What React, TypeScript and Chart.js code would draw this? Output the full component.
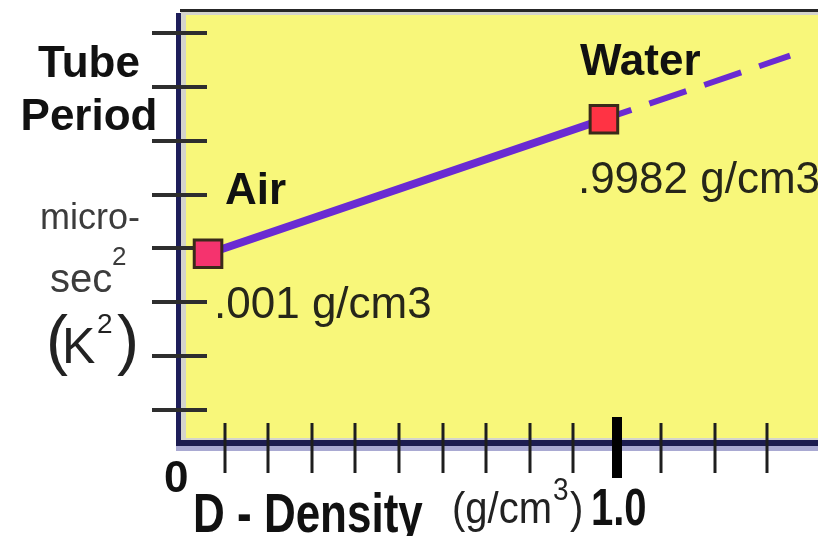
import { useEffect, useRef } from 'react';
import { Chart, registerables } from 'chart.js';

Chart.register(...registerables);

// ---- data ----
const pointNames = ['Air', 'Water'];
const pointDensityLabels = ['.001 g/cm3', '.9982 g/cm3'];
const densityX = [0.062, 0.97];
const periodY = [2.9, 5.4];
const extensionX = [0.97, 1.397];
const extensionY = [5.4, 6.58];
const xTickValues = [0.1, 0.2, 0.3, 0.4, 0.5, 0.6, 0.7, 0.8, 0.9, 1.0, 1.1, 1.225, 1.345];
const majorXTick = 1.0;
const yTickValues = [0, 1, 2, 3, 4, 5, 6, 7];
const xLabelZero = '0';
const xLabelMajor = '1.0';
const yTitle = ['Tube', 'Period'];

const FONT = '"Liberation Sans", Arial, sans-serif';
const PURPLE = '#6A2BD2';

function stretchedText(ctx: CanvasRenderingContext2D, text: string, x: number, y: number, font: string, sy: number, color: string) {
  ctx.save();
  ctx.font = font;
  ctx.fillStyle = color;
  ctx.textAlign = 'left';
  ctx.textBaseline = 'alphabetic';
  ctx.translate(x, y);
  ctx.scale(1, sy);
  ctx.fillText(text, 0, 0);
  ctx.restore();
}

const framePlugin = {
  id: 'frame',
  beforeDatasetsDraw(chart: any) {
    const { ctx, chartArea } = chart;
    const { left, top, right, bottom } = chartArea;
    ctx.save();
    // inner bevel
    ctx.fillStyle = '#D4D4CC';
    ctx.fillRect(left, top, right - left, bottom - top);
    ctx.fillStyle = '#F8F77A';
    ctx.fillRect(left + 5, top + 4, right - left - 5, bottom - top - 6);
    // top border
    ctx.fillStyle = '#262626';
    ctx.fillRect(left - 1, top - 2, right - left + 1, 3);
    // left border
    ctx.fillStyle = '#1E1E5A';
    ctx.fillRect(left - 5, top + 2, 5, bottom - top + 6);
    // bottom border
    ctx.fillStyle = '#1C1C50';
    ctx.fillRect(left - 5, bottom, right - left + 5, 6);
    ctx.fillStyle = '#A9A9D2';
    ctx.fillRect(left - 5, bottom + 6, right - left + 5, 5);

    const xs = chart.scales.x;
    const ys = chart.scales.y;
    ctx.lineCap = 'butt';
    // y ticks
    ctx.strokeStyle = '#2E2E2E';
    ctx.lineWidth = 4;
    for (const v of yTickValues) {
      const py = Math.round(ys.getPixelForValue(v));
      ctx.beginPath();
      ctx.moveTo(left - 29, py);
      ctx.lineTo(left + 26, py);
      ctx.stroke();
    }
    // x ticks
    for (const v of xTickValues) {
      const px = Math.round(xs.getPixelForValue(v));
      const major = Math.abs(v - majorXTick) < 1e-9;
      ctx.strokeStyle = major ? '#000000' : '#1E1E1E';
      ctx.lineWidth = major ? 10 : 3;
      ctx.beginPath();
      ctx.moveTo(px, major ? bottom - 23 : bottom - 17);
      ctx.lineTo(px, major ? bottom + 38 : bottom + 33);
      ctx.stroke();
    }
    ctx.restore();
  },
  afterDatasetsDraw(chart: any) {
    const { ctx } = chart;
    const meta = chart.getDatasetMeta(0);
    const nameOffsets = [
      { dx: 17, dy: -50 },
      { dx: -24, dy: -44 },
    ];
    const valueOffsets = [
      { dx: 6, dy: 64 },
      { dx: -26, dy: 74 },
    ];
    ctx.save();
    meta.data.forEach((pt: any, i: number) => {
      ctx.textAlign = 'left';
      ctx.textBaseline = 'alphabetic';
      ctx.fillStyle = '#111111';
      ctx.font = `bold 44px ${FONT}`;
      ctx.fillText(pointNames[i], pt.x + nameOffsets[i].dx, pt.y + nameOffsets[i].dy);
      ctx.fillStyle = '#26261A';
      ctx.font = `44px ${FONT}`;
      ctx.fillText(pointDensityLabels[i], pt.x + valueOffsets[i].dx, pt.y + valueOffsets[i].dy);
    });
    ctx.restore();
  },
  afterDraw(chart: any) {
    const { ctx } = chart;
    ctx.save();
    ctx.textBaseline = 'alphabetic';
    // y title
    ctx.fillStyle = '#111111';
    ctx.font = `bold 44px ${FONT}`;
    ctx.textAlign = 'center';
    ctx.fillText(yTitle[0], 89, 77);
    ctx.fillText(yTitle[1], 89, 130);
    ctx.textAlign = 'left';
    ctx.fillStyle = '#3C3C3C';
    ctx.font = `36px ${FONT}`;
    ctx.fillText('micro-', 40, 229);
    ctx.font = `26px ${FONT}`;
    ctx.fillText('2', 112, 265);
    ctx.font = `40px ${FONT}`;
    ctx.fillText('sec', 50, 292);
    ctx.fillStyle = '#222222';
    ctx.font = `66px ${FONT}`;
    ctx.fillText('(', 46, 362);
    ctx.fillText(')', 117, 362);
    ctx.font = `50px ${FONT}`;
    ctx.fillText('K', 62, 363);
    ctx.font = `28px ${FONT}`;
    ctx.fillText('2', 97, 333);

    // x title
    stretchedText(ctx, xLabelZero, 164, 492, `bold 44px ${FONT}`, 1.0, '#111111');
    stretchedText(ctx, 'D - Density', 193, 532, `bold 44px ${FONT}`, 1.27, '#111111');
    stretchedText(ctx, '(g/cm', 452, 523, `40px ${FONT}`, 1.12, '#222222');
    stretchedText(ctx, '3', 553, 500, `28px ${FONT}`, 1.1, '#222222');
    stretchedText(ctx, ')', 570, 523, `40px ${FONT}`, 1.12, '#222222');
    stretchedText(ctx, xLabelMajor, 591, 525, `bold 40px ${FONT}`, 1.3, '#111111');
    ctx.restore();
  },
};

export default function App() {
  const ref = useRef<HTMLCanvasElement | null>(null);

  useEffect(() => {
    if (!ref.current) return;
    const chart = new Chart(ref.current, {
      type: 'scatter',
      data: {
        datasets: [
          {
            label: 'calibration',
            data: densityX.map((x, i) => ({ x, y: periodY[i] })),
            showLine: true,
            borderColor: PURPLE,
            borderWidth: 8,
            pointStyle: 'rect',
            pointRadius: 19.5,
            pointBorderWidth: 3,
            pointBorderColor: '#3A2A1A',
            pointBackgroundColor: ['#F5336E', '#FF3344'],
          },
          {
            label: 'extension',
            data: extensionX.map((x, i) => ({ x, y: extensionY[i] })),
            showLine: true,
            borderColor: PURPLE,
            borderWidth: 6,
            borderDash: [39, 19],
            borderDashOffset: 10,
            pointRadius: 0,
          },
        ],
      },
      options: {
        animation: false,
        responsive: true,
        maintainAspectRatio: false,
        events: [],
        layout: { autoPadding: false, padding: { left: 181, top: 11, right: 0, bottom: 96 } },
        plugins: { legend: { display: false }, tooltip: { enabled: false } },
        scales: {
          x: { type: 'linear', min: 0, max: 1.461, display: false },
          y: { type: 'linear', min: -0.56, max: 7.41, display: false },
        },
      },
      plugins: [framePlugin],
    });
    return () => chart.destroy();
  }, []);

  return (
    <div style={{ position: 'fixed', left: 0, top: 0, width: 818, height: 536, background: '#ffffff' }}>
      <canvas ref={ref} />
    </div>
  );
}
